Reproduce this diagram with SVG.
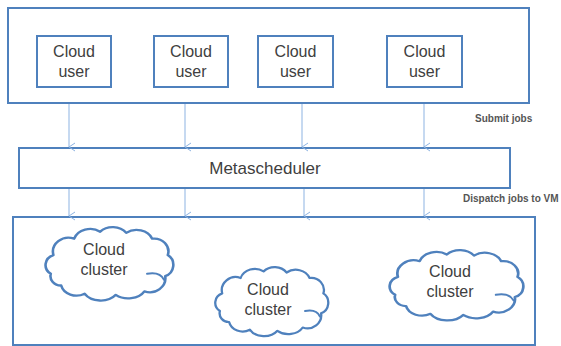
<svg xmlns="http://www.w3.org/2000/svg" xmlns:xlink="http://www.w3.org/1999/xlink" width="561" height="346" viewBox="0 0 561 346">
<style>
.box{fill:#fff;stroke:#4F81BD;stroke-width:2}
.t{font-family:"Liberation Sans",Arial,sans-serif;fill:#404040;text-anchor:middle}
.lbl{font-family:"Liberation Sans",Arial,sans-serif;fill:#555;font-size:10px;font-weight:bold}
.conn{stroke:#8DB3E2;stroke-width:1;fill:none}
.cl{fill:#fff;stroke:#4F81BD;stroke-width:2;vector-effect:non-scaling-stroke;stroke-linejoin:round}
.hk{fill:none;stroke:#4F81BD;stroke-width:2;vector-effect:non-scaling-stroke;stroke-linecap:round}
</style>
<defs>
<marker id="ah" markerWidth="10" markerHeight="8" refX="5" refY="7" orient="auto-start-reverse" markerUnits="userSpaceOnUse" viewBox="0 0 10 8">
<path d="M1,1 L5,7 L9,1" fill="none" stroke="#8DB3E2" stroke-width="1"/>
</marker>
<path id="cloudShape" d="M6,40 A9,9 0 0 1 8,24 A12,12 0 0 1 24,10 A13,12 0 0 1 44,4 A13,12 0 0 1 64,5 A13,12 0 0 1 84,10 A11,11 0 0 1 96,24 A9,10 0 0 1 94,42 A12,12 0 0 1 78,55 A14,11 0 0 1 56,58 A14,11 0 0 1 32,57 A12,11 0 0 1 14,50 A8,8 0 0 1 6,40 Z"/>
</defs>
<rect width="561" height="346" fill="#fff"/>

<g id="users-frame"><rect class="box" x="8" y="8" width="521" height="95"/></g>
<g id="user1"><rect class="box" x="37" y="36" width="74" height="51"/><text class="t" font-size="16" x="74" y="57">Cloud</text><text class="t" font-size="16" x="74" y="77">user</text></g>
<g id="user2"><rect class="box" x="154" y="36" width="74" height="51"/><text class="t" font-size="16" x="191" y="57">Cloud</text><text class="t" font-size="16" x="191" y="77">user</text></g>
<g id="user3"><rect class="box" x="258" y="36" width="75" height="51"/><text class="t" font-size="16" x="295.5" y="57">Cloud</text><text class="t" font-size="16" x="295.5" y="77">user</text></g>
<g id="user4"><rect class="box" x="387" y="36" width="75" height="51"/><text class="t" font-size="16" x="424.5" y="57">Cloud</text><text class="t" font-size="16" x="424.5" y="77">user</text></g>

<g id="metascheduler"><rect class="box" x="19" y="148" width="491" height="40"/><text class="t" font-size="17" x="265" y="174">Metascheduler</text></g>

<g id="clusters-frame"><rect class="box" x="13" y="217" width="522" height="128"/></g>

<g id="cluster1">
<g transform="translate(43,227) scale(1.3,1.17)"><use xlink:href="#cloudShape" class="cl"/><path class="hk" d="M80,40 Q90,38 93,45"/></g>
<text class="t" font-size="16" x="104" y="255">Cloud</text><text class="t" font-size="16" x="104" y="275">cluster</text>
</g>
<g id="cluster2">
<g transform="translate(213,267) scale(1.15,1.1)"><use xlink:href="#cloudShape" class="cl"/><path class="hk" d="M80,40 Q90,38 93,45"/></g>
<text class="t" font-size="16" x="268" y="295">Cloud</text><text class="t" font-size="16" x="268" y="315">cluster</text>
</g>
<g id="cluster3">
<g transform="translate(387,250) scale(1.36,1.12)"><use xlink:href="#cloudShape" class="cl"/><path class="hk" d="M80,40 Q90,38 93,45"/></g>
<text class="t" font-size="16" x="450" y="277">Cloud</text><text class="t" font-size="16" x="450" y="297">cluster</text>
</g>

<g id="connectors">
<line class="conn" x1="69" y1="104" x2="69" y2="147" marker-end="url(#ah)"/>
<line class="conn" x1="185" y1="104" x2="185" y2="147" marker-end="url(#ah)"/>
<line class="conn" x1="302" y1="104" x2="302" y2="147" marker-end="url(#ah)"/>
<line class="conn" x1="424" y1="104" x2="424" y2="147" marker-end="url(#ah)"/>
<line class="conn" x1="69" y1="189" x2="69" y2="216" marker-end="url(#ah)"/>
<line class="conn" x1="185" y1="189" x2="185" y2="216" marker-end="url(#ah)"/>
<line class="conn" x1="304" y1="189" x2="304" y2="216" marker-end="url(#ah)"/>
<line class="conn" x1="424" y1="189" x2="424" y2="216" marker-end="url(#ah)"/>
<text class="lbl" x="475" y="122">Submit jobs</text>
<text class="lbl" x="463" y="202">Dispatch jobs to VM</text>
</g>
</svg>
